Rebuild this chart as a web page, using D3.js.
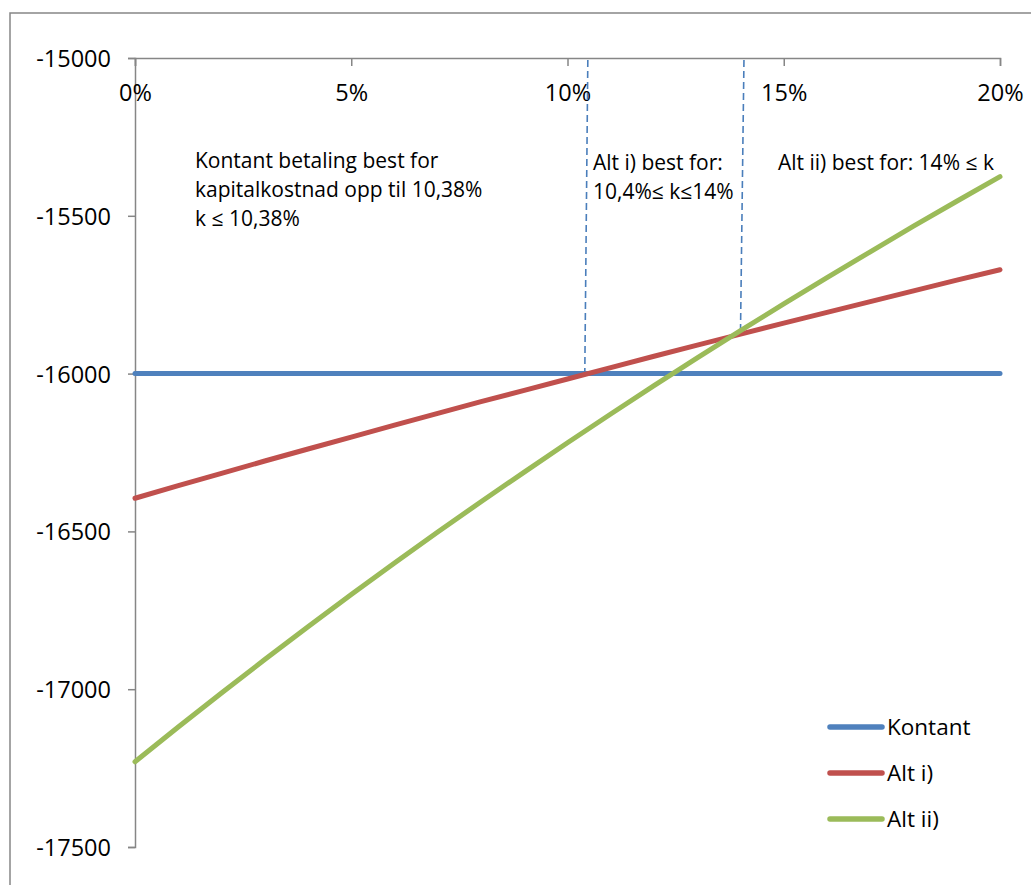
<!DOCTYPE html>
<html><head><meta charset="utf-8">
<script src="https://cdn.jsdelivr.net/npm/d3@7"></script>
<style>
html,body{margin:0;padding:0;background:#fff;}
svg{display:block;font-family:"Open Sans",sans-serif;}
</style></head>
<body>
<svg id="c" width="1031" height="885"></svg>
<script>
const rates = [0,1,2,3,4,5,6,7,8,9,10,11,12,13,14,15,16,17,18,19,20];
const kontant = [-16000,-16000,-16000,-16000,-16000,-16000,-16000,-16000,-16000,-16000,-16000,-16000,-16000,-16000,-16000,-16000,-16000,-16000,-16000,-16000,-16000];
const altI = [-16395,-16355,-16316,-16277,-16239,-16201,-16163,-16126,-16089,-16053,-16017,-15981,-15945,-15910,-15875,-15840,-15806,-15772,-15738,-15704,-15671];
const altII = [-17230,-17120,-17012,-16906,-16802,-16700,-16600,-16502,-16406,-16312,-16219,-16128,-16038,-15950,-15864,-15779,-15696,-15614,-15533,-15454,-15376];
const seriesNames = ["Kontant","Alt i)","Alt ii)"];
const seriesColors = ["#4F81BD","#C0504D","#9BBB59"];
const xTicks = [0,5,10,15,20];
const yTicks = [-15000,-15500,-16000,-16500,-17000,-17500];
// dashed guide lines: [top rate, bottom rate, bottom value]
const guideTopRates = [10.47, 14.08];
const guideBottomRates = [10.40, 14.00];
const guideBottomValues = [-16000, -15867];

const svg = d3.select("#c");
const x = d3.scaleLinear().domain([0,20]).range([135,1000]);
const y = d3.scaleLinear().domain([-15000,-17500]).range([58,847]);
const grey = "#868686";

// outer chart border
svg.append("rect").attr("x",10).attr("y",13).attr("width",1100).attr("height",1000)
  .attr("fill","none").attr("stroke",grey).attr("stroke-width",1.5);

// y axis
const yAxis = d3.axisLeft(y).tickValues(yTicks).tickSize(7).tickPadding(17).tickFormat(d=>String(d));
const gy = svg.append("g").attr("transform","translate(135,0)").call(yAxis);
gy.select(".domain").attr("stroke",grey).attr("stroke-width",1.5);
gy.selectAll(".tick line").attr("stroke",grey).attr("stroke-width",1.5);
gy.selectAll(".tick text").attr("font-family","Open Sans").attr("font-size",23.5).attr("fill","#000").attr("dy","0.36em");

// x axis on top line, ticks downward
const xAxis = d3.axisBottom(x).tickValues(xTicks).tickSize(8).tickPadding(18).tickFormat(d=>d+"%");
const gx = svg.append("g").attr("transform","translate(0,58)").call(xAxis);
gx.select(".domain").attr("stroke",grey).attr("stroke-width",1.5);
gx.selectAll(".tick line").attr("stroke",grey).attr("stroke-width",1.5);
gx.selectAll(".tick text").attr("font-family","Open Sans").attr("font-size",23.5).attr("fill","#000");

// dashed guides
guideTopRates.forEach((r,i)=>{
  svg.append("line").attr("x1",x(r)).attr("y1",y(-15000)+2)
    .attr("x2",x(guideBottomRates[i])).attr("y2",y(guideBottomValues[i]))
    .attr("stroke","#4A7EBB").attr("stroke-width",1.6).attr("stroke-dasharray","7,4");
});

// series
const data = [kontant, altI, altII];
const line = d3.line().x((d,i)=>x(rates[i])).y(d=>y(d));
data.forEach((s,i)=>{
  svg.append("path").datum(s).attr("d",line).attr("fill","none")
    .attr("stroke",seriesColors[i]).attr("stroke-width",5).attr("stroke-linecap","round").attr("stroke-linejoin","round");
});

// annotations
const ann = svg.append("g").attr("font-family","Open Sans").attr("font-size",21).attr("fill","#000");
function txt(x0,y0,t){ ann.append("text").attr("x",x0).attr("y",y0).text(t); }
txt(195,168,"Kontant betaling best for");
txt(195,197,"kapitalkostnad opp til 10,38%");
txt(195,226,"k \u2264 10,38%");
txt(593,170,"Alt i) best for:");
txt(593,199,"10,4%\u2264 k\u226414%");
txt(778,170,"Alt ii) best for: 14% \u2264 k");

// legend
const legY = [727,773,819];
seriesNames.forEach((n,i)=>{
  svg.append("line").attr("x1",830).attr("x2",882).attr("y1",legY[i]).attr("y2",legY[i])
    .attr("stroke",seriesColors[i]).attr("stroke-width",5.5).attr("stroke-linecap","round");
  svg.append("text").attr("x",887).attr("y",legY[i]).attr("dy","0.36em")
    .attr("font-family","Open Sans").attr("font-size",22.5).attr("fill","#000").text(n);
});
</script>
</body></html>
